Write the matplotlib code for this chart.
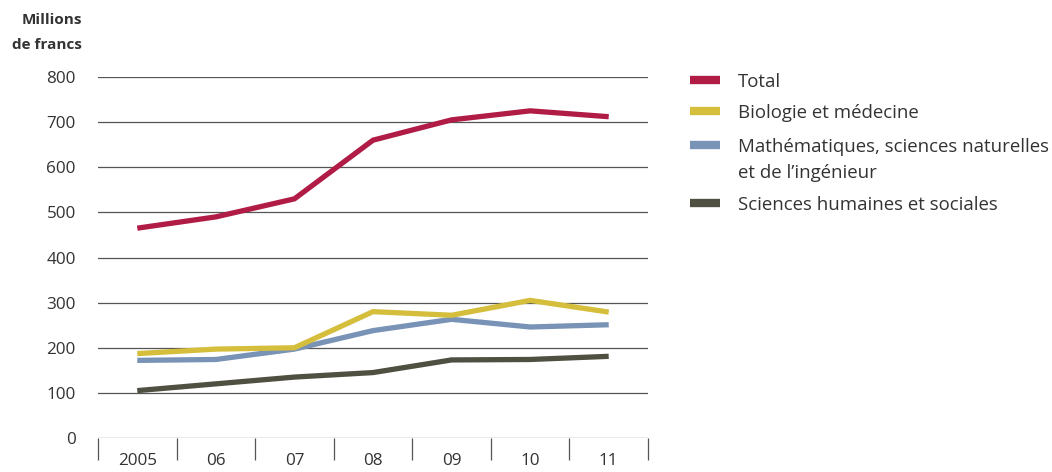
import matplotlib
matplotlib.use("Agg")
import matplotlib.pyplot as plt
from matplotlib.lines import Line2D

plt.rcParams['font.family'] = ['Open Sans', 'DejaVu Sans']

years = ["2005", "06", "07", "08", "09", "10", "11"]
total = [465, 490, 530, 660, 705, 725, 712]
biologie = [187, 197, 200, 280, 272, 305, 279]
mathematiques = [172, 174, 197, 238, 263, 246, 251]
sciences_humaines = [105, 120, 135, 145, 173, 174, 181]

labels = ["Total", "Biologie et médecine",
          "Mathématiques, sciences naturelles\net de l’ingénieur",
          "Sciences humaines et sociales"]
colors = ["#B01C45", "#D4BE3C", "#7893B5", "#4F4F42"]
series = [total, biologie, mathematiques, sciences_humaines]
yticks = [0, 100, 200, 300, 400, 500, 600, 700, 800]

W, H = 1052, 472
fig = plt.figure(figsize=(W / 100, H / 100), dpi=100)
ax = fig.add_axes([98 / W, 1 - 438 / H, 550 / W, 361 / H])

x = list(range(len(years)))
for s, c in zip(series[::-1], colors[::-1]):
    ax.plot(x, s, color=c, lw=3.8, solid_capstyle='butt', solid_joinstyle='miter', zorder=3)

ax.set_xlim(-0.5, len(years) - 0.5)
ax.set_ylim(0, 800)
ax.set_yticks(yticks)
ax.set_yticklabels([str(v) for v in yticks])
for v in yticks:
    ax.axhline(v, color="#555555", lw=0.9, zorder=1)

for sp in ax.spines.values():
    sp.set_visible(False)

ax.set_xticks([i - 0.5 for i in range(len(years) + 1)])
ax.set_xticklabels([])
ax.set_xticks(x, minor=True)
ax.set_xticklabels(years, minor=True)
ax.tick_params(axis='x', which='major', length=16, width=0.9, color="#555555")
ax.tick_params(axis='x', which='minor', length=0, pad=3, labelsize=12.3, labelcolor="#333333")
ax.tick_params(axis='y', length=0, pad=16, labelsize=12.3, labelcolor="#333333")
for lbl in ax.get_xticklabels(minor=True):
    lbl.set_y(-0.03)

fig.text(82 / W, 1 - 20 / H, "Millions", ha='right', va='center', fontsize=11,
         fontweight='bold', color="#333333")
fig.text(82 / W, 1 - 45 / H, "de francs", ha='right', va='center', fontsize=11,
         fontweight='bold', color="#333333")

# legend
rows = [80, 111, 145, 203]
line_gap = 26
for lab, c, yy in zip(labels, colors, rows):
    fig.add_artist(Line2D([690 / W, 720 / W], [1 - yy / H, 1 - yy / H], color=c, lw=6,
                          solid_capstyle='butt'))
    for k, part in enumerate(lab.split("\n")):
        fig.text(738 / W, 1 - (yy + k * line_gap) / H, part, ha='left', va='center_baseline',
                 fontsize=13.4, color="#333333")

fig.savefig("out.png", dpi=100)
